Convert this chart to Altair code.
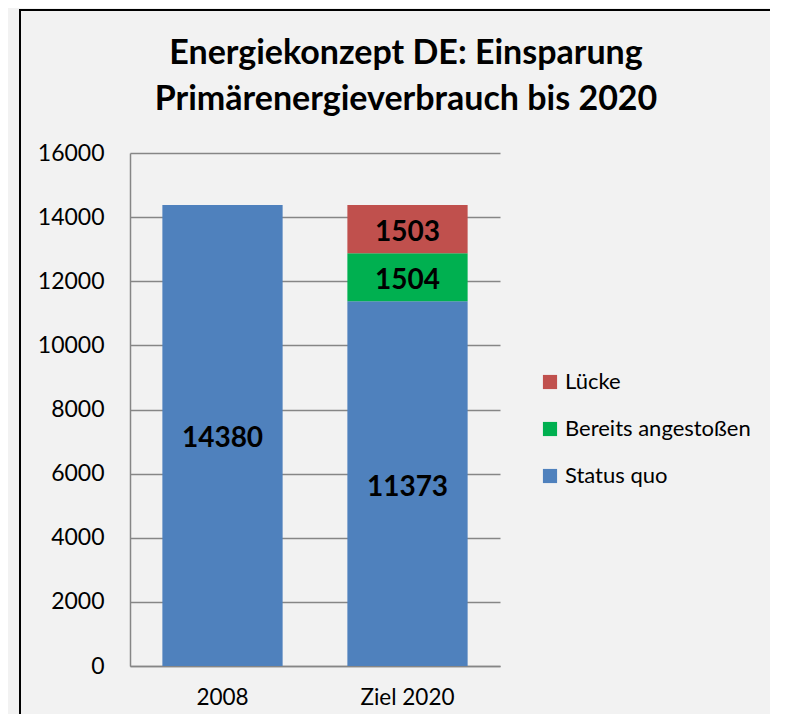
import altair as alt
import pandas as pd

categories = ["2008", "Ziel 2020", "Ziel 2020", "Ziel 2020"]
series = ["Status quo", "Status quo", "Bereits angestoßen", "Lücke"]
values = [14380, 11373, 1504, 1503]
stack_rank = [0, 0, 1, 2]

legend_order = ["Lücke", "Bereits angestoßen", "Status quo"]
colors = ["#c0504d", "#00b050", "#4f81bd"]
y_ticks = [0, 2000, 4000, 6000, 8000, 10000, 12000, 14000, 16000]

title_text = "Energiekonzept DE: Einsparung\nPrimärenergieverbrauch bis 2020"

df = pd.DataFrame({"category": categories, "series": series,
                   "value": values, "rank": stack_rank})

FONT = "Lato"
GRID = "#868686"

base = alt.Chart(df).transform_stack(
    stack="value", groupby=["category"], as_=["v0", "v1"],
    sort=[alt.SortField("rank", order="ascending")]
).transform_calculate(mid="(datum.v0 + datum.v1) / 2")

xenc = alt.X("category:N", sort=["2008", "Ziel 2020"],
             scale=alt.Scale(paddingInner=0.35, paddingOuter=0.175),
             axis=alt.Axis(title=None, labelAngle=0, ticks=False, labelPadding=20,
                           labelFontSize=22.5, labelFont=FONT, labelColor="black",
                           domainColor=GRID, domainWidth=1.5))

bars = base.mark_bar().encode(
    x=xenc,
    y=alt.Y("v0:Q", scale=alt.Scale(domain=[0, 16000], nice=False),
            axis=alt.Axis(title=None, values=y_ticks, format="d", ticks=False,
                          labelPadding=26, labelFontSize=23, labelFont=FONT,
                          labelColor="black", gridColor=GRID, gridWidth=1.5,
                          domainColor=GRID, domainWidth=1.5)),
    y2="v1:Q",
    color=alt.Color("series:N", scale=alt.Scale(domain=legend_order, range=colors),
                    legend=alt.Legend(title=None, orient="none", legendX=409, legendY=218,
                                      symbolType="square", symbolSize=200,
                                      symbolStrokeWidth=0, labelFontSize=22,
                                      labelFont=FONT, labelColor="black",
                                      labelLimit=400,
                                      rowPadding=25, labelOffset=4)),
)

labels = base.mark_text(font=FONT, fontWeight="bold", fontSize=28, color="black",
                        dy=4).encode(
    x=alt.X("category:N", sort=["2008", "Ziel 2020"]),
    y="mid:Q",
    text=alt.Text("value:Q", format="d"),
)

title = alt.Chart(pd.DataFrame({"t": [title_text]})).mark_text(
    font=FONT, fontSize=34, fontWeight="bold", color="black",
    lineBreak="\n", lineHeight=46, align="center", baseline="alphabetic"
).encode(x=alt.value(276), y=alt.value(-89), text="t:N")

one = pd.DataFrame({"f": [0]})
frame_left = alt.Chart(one).mark_rule(color="black", strokeWidth=2).encode(
    x=alt.value(-110), y=alt.value(-143), y2=alt.value(600))
frame_top = alt.Chart(one).mark_rule(color="black", strokeWidth=2).encode(
    x=alt.value(-111), x2=alt.value(700), y=alt.value(-143))

chart = alt.layer(frame_left, frame_top, bars, labels, title).properties(
    width=370, height=513,
    autosize=alt.AutoSizeParams(type="none"),
    padding={"left": 122, "top": 145, "right": 270, "bottom": 48},
).configure(background="#f2f2f2").configure_view(stroke=None)

chart.save("out.html", embed_options={"renderer": "svg", "actions": False})
